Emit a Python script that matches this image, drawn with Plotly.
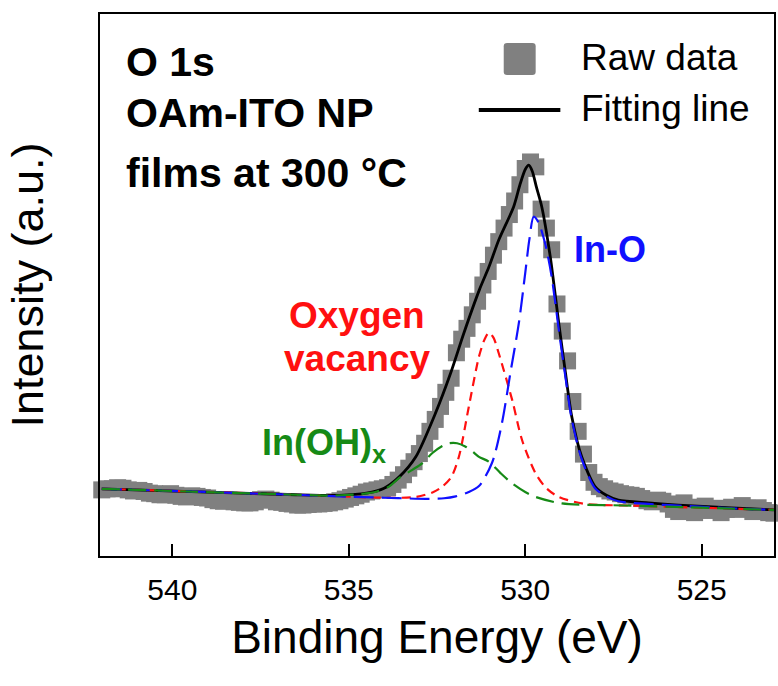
import plotly.graph_objects as go
import numpy as np

# ---- O 1s spectrum: measured counts on a 0.15 eV binding-energy grid ----
be_start, be_step = 542.0, -0.15
raw_counts = [
    12.2, 12.4, 12.4, 12.6, 12.5, 12.2, 12.0, 12.1, 11.9, 11.6,
    11.5, 11.3, 11.3, 11.5, 11.2, 11.0, 10.9, 11.1, 11.0, 10.8,
    10.7, 10.4, 10.2, 10.1, 10.3, 10.0, 9.9, 9.8, 9.8, 10.0,
    10.4, 10.5, 10.3, 10.0, 9.9, 9.7, 9.6, 9.4, 9.4, 9.5,
    9.6, 9.6, 9.7, 9.8, 10.0, 10.2, 10.5, 10.8, 11.1, 11.4,
    11.8, 12.0, 12.2, 12.4, 12.6, 13.2, 14.0, 15.0, 16.2, 17.4,
    18.9, 20.8, 23.0, 25.2, 27.6, 30.2, 32.8, 37.5, 40.0, 42.0,
    44.5, 47.0, 50.0, 52.5, 55.5, 58.0, 60.5, 63.0, 65.5, 68.5,
    71.5, 72.7, 71.8, 64.0, 60.5, 56.5, 46.5, 41.5, 36.0, 28.5,
    23.0, 18.8, 15.4, 13.6, 12.8, 12.4, 12.0, 11.8, 11.5, 11.3,
    11.2, 11.0, 10.6, 10.2, 10.0, 10.3, 10.1, 9.6, 8.6, 8.2,
    9.8, 9.0, 8.0, 8.6, 9.2, 8.4, 8.8, 8.0, 8.6, 9.0,
    8.6, 9.3, 8.8, 8.2, 8.9, 8.4, 8.0, 7.9,
]
raw_be = be_start + be_step * np.arange(len(raw_counts))

# ---- fitted envelope ----
fit_be = [542.0, 539.0, 536.5, 535.27, 534.5, 534.0, 533.57, 533.1, 532.54,
          532.11, 531.74, 531.3, 531.03, 530.75, 530.33, 530.15, 530.0, 529.9,
          529.8, 529.68, 529.53, 529.29, 529.05, 528.86, 528.68, 528.4, 528.02,
          527.7, 527.36, 526.5, 525.66, 524.3, 522.95]
fit_val = [12.4, 11.8, 11.3, 11.2, 11.6, 12.5, 14.6, 18.3, 26.4,
           33.8, 41.1, 49.1, 53.3, 58.3, 64.4, 68.5, 71.3, 72.1,
           71.0, 68.0, 64.4, 55.2, 43.0, 33.8, 25.7, 18.3, 12.8,
           11.2, 10.3, 9.8, 9.4, 8.9, 8.5]

# ---- fitted components ----
ino_be = [542.0, 538.0, 534.0, 532.8, 532.3, 531.97, 531.6, 531.31, 530.94,
          530.66, 530.42, 530.18, 530.0, 529.88, 529.76, 529.62, 529.43,
          529.25, 529.05, 528.86, 528.68, 528.4, 528.02, 527.7, 527.36,
          526.5, 525.66, 524.3, 522.95]
ino_val = [12.4, 11.6, 10.75, 10.55, 10.65, 11.0, 11.8, 12.9, 17.2,
           24.5, 33.8, 43.0, 52.2, 58.5, 62.6, 61.5, 57.5,
           51.5, 41.8, 33.0, 25.2, 17.9, 12.5, 11.0, 10.1,
           9.6, 9.3, 8.85, 8.5]

vac_be = [542.0, 536.0, 534.0, 533.1, 532.6, 532.35, 532.1, 531.88, 531.6,
          531.31, 531.15, 531.03, 530.9, 530.75, 530.37, 530.09, 529.71,
          529.4, 529.05, 528.3, 527.0, 522.95]
vac_val = [12.4, 11.2, 10.75, 10.9, 11.8, 12.8, 14.5, 18.3, 27.5,
           36.8, 40.0, 41.2, 40.3, 37.4, 28.8, 21.4, 15.3,
           12.5, 10.9, 9.6, 9.3, 8.5]

oh_be = [542.0, 537.0, 535.5, 534.7, 534.2, 533.86, 533.57, 533.2, 532.92,
         532.63, 532.35, 532.16, 531.93, 531.7, 531.5, 531.31, 531.03, 530.7,
         530.37, 530.0, 529.71, 528.96, 527.0, 522.95]
oh_val = [12.4, 11.4, 11.15, 11.4, 11.9, 12.8, 14.4, 15.9, 17.1,
          19.0, 20.3, 20.8, 20.8, 20.2, 19.3, 18.3, 17.4, 15.3,
          13.4, 11.8, 10.9, 9.7, 9.3, 8.5]

x_ticks = [540, 535, 530, 525]

FONT = "Liberation Sans, Arial, Helvetica, sans-serif"
GRAY = "#808080"
RED = "#ff1010"
BLUE = "#1010ff"
GREEN = "#168a16"

fig = go.Figure()
fig.add_trace(go.Scatter(
    x=raw_be, y=raw_counts, mode="markers", name="Raw data",
    marker=dict(symbol="square", size=17, color=GRAY, line=dict(width=0)),
    cliponaxis=False,
))
fig.add_trace(go.Scatter(
    x=fit_be, y=fit_val, mode="lines", name="Fitting line",
    line=dict(color="black", width=2.8, shape="spline", smoothing=0.7),
))
fig.add_trace(go.Scatter(
    x=vac_be, y=vac_val, mode="lines", name="Oxygen vacancy",
    line=dict(color=RED, width=2.2, dash="9px,6px", shape="spline", smoothing=0.8),
))
fig.add_trace(go.Scatter(
    x=ino_be, y=ino_val, mode="lines", name="In-O",
    line=dict(color=BLUE, width=2.2, dash="20px,8px", shape="spline", smoothing=0.8),
))
fig.add_trace(go.Scatter(
    x=oh_be, y=oh_val, mode="lines", name="In(OH)x",
    line=dict(color=GREEN, width=2.2, dash="18px,8px", shape="spline", smoothing=0.8),
))

# hand-drawn legend (large symbols): rounded grey square and a thick black line
x0, x1, y0, y1 = 0.599, 0.6464, 0.8875, 0.9465
rx, ry = 0.005, 0.006
sq_path = (f"M {x0+rx},{y0} L {x1-rx},{y0} Q {x1},{y0} {x1},{y0+ry} "
           f"L {x1},{y1-ry} Q {x1},{y1} {x1-rx},{y1} L {x0+rx},{y1} "
           f"Q {x0},{y1} {x0},{y1-ry} L {x0},{y0+ry} Q {x0},{y0} {x0+rx},{y0} Z")
fig.add_shape(type="path", xref="paper", yref="paper", path=sq_path,
              fillcolor=GRAY, line=dict(width=0))
fig.add_shape(type="line", xref="paper", yref="paper",
              x0=0.562, x1=0.683, y0=0.823, y1=0.823,
              line=dict(color="black", width=4))

def label(text, x, y, size, color="black", bold=False, xanchor="left"):
    fig.add_annotation(
        text=f"<b>{text}</b>" if bold else text, xref="paper", yref="paper",
        x=x, y=y, xanchor=xanchor, yanchor="middle", showarrow=False,
        font=dict(family=FONT, size=size, color=color),
    )

label("Raw data", 0.711, 0.919, 37)
label("Fitting line", 0.711, 0.826, 37)
label("O 1s", 0.036, 0.912, 41, bold=True)
label("OAm-ITO NP", 0.036, 0.818, 41, bold=True)
label("films at 300 °C", 0.036, 0.707, 41, bold=True)
label("In-O", 0.700, 0.5646, 36, color=BLUE, bold=True)
label("Oxygen", 0.381, 0.443, 37, color=RED, bold=True, xanchor="center")
label("vacancy", 0.381, 0.364, 37, color=RED, bold=True, xanchor="center")
label("In(OH)<sub>x</sub>", 0.238, 0.2048, 36, color=GREEN, bold=True)

fig.update_layout(
    width=778, height=686,
    margin=dict(l=100, r=2, t=14, b=130),
    paper_bgcolor="white", plot_bgcolor="white",
    showlegend=False,
    font=dict(family=FONT, color="black"),
    xaxis=dict(
        range=[542.05, 522.95], tickvals=x_ticks, ticks="inside", ticklen=12,
        tickwidth=2, tickcolor="black", showline=True, linewidth=2,
        linecolor="black", mirror=True, showgrid=False, zeroline=False,
        tickfont=dict(size=30, family=FONT), ticklabelstandoff=6,
        title=dict(text="Binding Energy (eV)", font=dict(size=46, family=FONT), standoff=16),
    ),
    yaxis=dict(
        range=[0, 100], showticklabels=False, ticks="", showline=True,
        linewidth=2, linecolor="black", mirror=True, showgrid=False,
        zeroline=False,
        title=dict(text="Intensity (a.u.)", font=dict(size=45, family=FONT), standoff=40),
    ),
)

fig.write_html("out.html")
